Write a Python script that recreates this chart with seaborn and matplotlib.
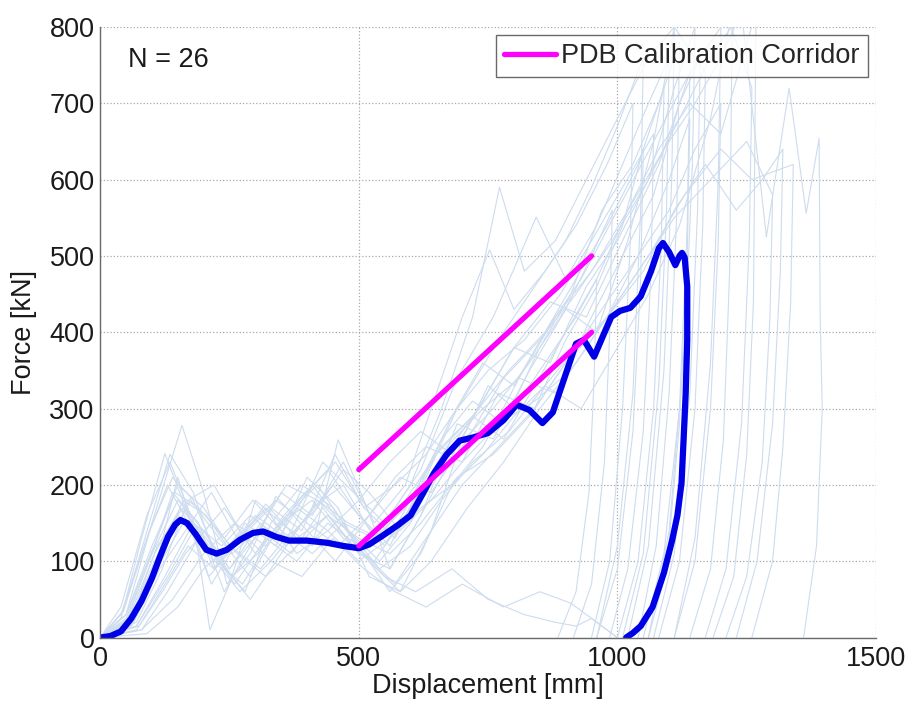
import numpy as np
import pandas as pd
import matplotlib
matplotlib.use("Agg")
import matplotlib.pyplot as plt
import seaborn as sns

# ---- individual tests (faint curves): displacement [mm] / force [kN]
t01_disp = [0, 40, 80, 125, 165, 210, 260, 320, 380, 440, 500, 560, 620, 690, 760, 830, 900, 950, 990, 985, 975, 950, 915]
t01_force = [0, 25, 130, 241, 170, 80, 120, 175, 130, 160, 110, 90, 160, 250, 300, 360, 430, 500, 560, 400, 230, 70, 0]
t02_disp = [0, 50, 100, 158, 200, 245, 290, 340, 400, 455, 510, 570, 630, 700, 770, 840, 900, 960, 1010, 1050, 1045, 1030, 1000, 960]
t02_force = [0, 30, 150, 278, 190, 70, 110, 185, 140, 100, 150, 210, 250, 230, 320, 300, 390, 460, 540, 640, 470, 270, 90, 0]
t03_disp = [0, 60, 110, 150, 185, 212, 250, 300, 350, 410, 460, 510, 560, 620, 690, 760, 830, 900, 960, 1020, 1070, 1110, 1105, 1090, 1060, 1020]
t03_force = [0, 15, 100, 210, 130, 10, 70, 180, 150, 120, 259, 180, 90, 160, 280, 260, 350, 430, 400, 520, 650, 800, 600, 350, 120, 0]
t04_disp = [0, 70, 120, 170, 220, 270, 330, 390, 450, 500, 550, 600, 660, 720, 780, 850, 910, 970, 1030, 1080, 1120, 1115, 1100, 1075, 1040]
t04_force = [0, 20, 90, 180, 200, 140, 100, 150, 200, 160, 120, 180, 260, 310, 280, 380, 450, 560, 620, 700, 780, 560, 320, 120, 0]
t05_disp = [0, 40, 90, 135, 175, 220, 280, 340, 400, 460, 520, 580, 640, 700, 750, 800, 860, 920, 960, 955, 945, 920, 885]
t05_force = [0, 40, 160, 230, 160, 90, 150, 120, 210, 170, 80, 60, 140, 260, 330, 300, 360, 420, 470, 340, 190, 60, 0]
t06_disp = [0, 80, 130, 190, 240, 300, 360, 420, 480, 540, 600, 660, 730, 800, 870, 940, 1000, 1060, 1110, 1150, 1145, 1130, 1100, 1060]
t06_force = [0, 10, 60, 130, 170, 110, 160, 200, 140, 100, 150, 230, 300, 380, 360, 460, 520, 600, 720, 800, 620, 380, 140, 0]
t07_disp = [0, 50, 100, 140, 190, 240, 290, 350, 410, 470, 530, 590, 650, 700, 753, 800, 860, 920, 980, 1030, 1025, 1010, 985, 950]
t07_force = [0, 20, 110, 190, 150, 60, 120, 190, 160, 230, 150, 200, 320, 420, 508, 430, 480, 540, 620, 700, 520, 300, 100, 0]
t08_disp = [0, 60, 110, 160, 210, 260, 320, 380, 440, 500, 560, 620, 680, 740, 810, 880, 950, 1010, 1070, 1120, 1160, 1155, 1140, 1110, 1070]
t08_force = [0, 25, 120, 170, 120, 70, 130, 100, 150, 120, 60, 110, 200, 250, 340, 320, 420, 500, 580, 700, 760, 560, 320, 110, 0]
t09_disp = [0, 70, 130, 180, 230, 290, 350, 410, 470, 530, 600, 660, 720, 772, 820, 880, 940, 1000, 1060, 1110, 1170, 1165, 1150, 1120, 1080]
t09_force = [0, 15, 80, 140, 100, 50, 110, 170, 200, 130, 200, 300, 420, 590, 480, 520, 600, 680, 760, 800, 740, 540, 300, 100, 0]
t10_disp = [0, 50, 110, 150, 200, 250, 310, 370, 430, 490, 550, 620, 690, 760, 843, 900, 960, 1010, 1060, 1100, 1095, 1080, 1050, 1010]
t10_force = [0, 30, 130, 200, 170, 120, 90, 140, 230, 190, 150, 220, 340, 420, 551, 470, 540, 620, 700, 760, 560, 330, 110, 0]
t11_disp = [0, 60, 110, 160, 210, 270, 330, 390, 450, 510, 570, 630, 700, 780, 850, 910, 960, 1000]
t11_force = [0, 15, 90, 150, 110, 60, 100, 80, 130, 90, 60, 40, 70, 40, 60, 45, 20, 0]
t12_disp = [0, 80, 140, 200, 260, 320, 380, 440, 500, 560, 620, 680, 740, 800, 860, 920, 980, 1040, 1100, 1150, 1200, 1195, 1180, 1150, 1110]
t12_force = [0, 10, 50, 110, 150, 120, 170, 140, 100, 130, 170, 200, 240, 290, 330, 380, 440, 500, 560, 640, 700, 520, 300, 100, 0]
t13_disp = [0, 45, 95, 140, 180, 230, 280, 330, 390, 450, 510, 570, 630, 700, 770, 840, 910, 980, 1040, 1100, 1140, 1135, 1120, 1095, 1060]
t13_force = [0, 35, 140, 210, 180, 100, 60, 150, 200, 170, 110, 70, 130, 200, 250, 300, 370, 420, 500, 600, 680, 500, 280, 90, 0]
t14_disp = [0, 55, 105, 150, 200, 250, 310, 360, 420, 480, 540, 600, 660, 720, 790, 860, 930, 1000, 1060, 1120, 1180, 1222, 1217, 1205, 1180, 1140]
t14_force = [0, 20, 100, 160, 140, 90, 150, 120, 180, 140, 90, 120, 180, 230, 270, 330, 300, 380, 450, 540, 680, 820, 480, 260, 90, 0]
t15_disp = [0, 65, 120, 175, 230, 290, 350, 410, 470, 530, 600, 670, 740, 810, 880, 950, 1020, 1090, 1150, 1200, 1240, 1288, 1332, 1365, 1390, 1392, 1396, 1385, 1360]
t15_force = [0, 20, 110, 180, 130, 80, 150, 180, 130, 100, 170, 250, 300, 340, 420, 480, 560, 640, 700, 760, 820, 525, 720, 556, 654, 420, 300, 120, 0]
t16_disp = [0, 75, 125, 170, 220, 280, 340, 400, 460, 520, 580, 640, 710, 780, 850, 920, 990, 1060, 1120, 1180, 1220, 1260, 1255, 1240, 1210, 1170]
t16_force = [0, 15, 70, 120, 90, 140, 180, 150, 120, 160, 210, 190, 260, 340, 390, 450, 520, 600, 680, 760, 800, 720, 520, 280, 90, 0]
t17_disp = [0, 40, 85, 130, 170, 215, 270, 330, 390, 454, 510, 570, 630, 690, 750, 820, 890, 950, 1010, 1070, 1065, 1050, 1020, 985]
t17_force = [0, 30, 120, 200, 150, 70, 130, 170, 140, 240, 170, 130, 210, 300, 350, 390, 450, 520, 590, 660, 480, 270, 90, 0]
t18_disp = [0, 70, 120, 165, 215, 265, 320, 380, 440, 500, 560, 620, 690, 760, 830, 900, 970, 1040, 1110, 1180, 1250, 1300, 1295, 1280, 1250, 1210]
t18_force = [0, 10, 60, 110, 150, 110, 80, 120, 160, 130, 110, 150, 210, 240, 290, 360, 410, 480, 550, 600, 650, 580, 420, 230, 80, 0]
t19_disp = [0, 50, 100, 150, 200, 250, 310, 370, 430, 490, 550, 610, 680, 750, 820, 880, 920, 950, 980, 1000]
t19_force = [0, 25, 110, 180, 140, 90, 140, 110, 170, 120, 80, 60, 90, 50, 30, 20, 15, 25, 10, 0]
t20_disp = [0, 60, 115, 160, 205, 255, 305, 360, 420, 480, 540, 600, 660, 720, 780, 840, 900, 960, 1020, 1080, 1140, 1200, 1268, 1263, 1250, 1225, 1185]
t20_force = [0, 20, 100, 180, 160, 110, 140, 200, 180, 150, 130, 190, 250, 290, 260, 330, 400, 470, 560, 640, 700, 660, 820, 440, 240, 80, 0]
t21_disp = [0, 90, 150, 200, 250, 300, 360, 420, 470, 520, 580, 640, 700, 770, 840, 910, 980, 1050, 1110, 1170, 1230, 1280, 1320, 1315, 1300, 1270, 1230]
t21_force = [0, 5, 40, 90, 120, 160, 130, 170, 220, 190, 140, 180, 230, 280, 310, 350, 420, 480, 560, 620, 560, 600, 640, 480, 280, 100, 0]
t22_disp = [0, 45, 95, 135, 180, 225, 275, 330, 385, 440, 500, 560, 620, 680, 740, 800, 860, 920, 980, 1040, 1090, 1085, 1070, 1040, 1000]
t22_force = [0, 35, 150, 240, 190, 100, 70, 130, 180, 220, 160, 120, 200, 290, 360, 330, 400, 470, 540, 620, 720, 520, 300, 100, 0]
t23_disp = [0, 65, 115, 165, 215, 265, 320, 380, 440, 500, 560, 620, 680, 740, 800, 870, 940, 1010, 1080, 1140, 1135, 1120, 1090, 1050]
t23_force = [0, 20, 90, 140, 190, 130, 170, 110, 140, 180, 230, 270, 240, 310, 380, 440, 420, 520, 620, 740, 540, 300, 110, 0]
t24_disp = [0, 55, 105, 155, 205, 255, 305, 355, 410, 465, 520, 580, 640, 710, 780, 850, 920, 990, 1060, 1130, 1200, 1260, 1340, 1335, 1320, 1300, 1260]
t24_force = [0, 25, 110, 170, 130, 80, 110, 160, 200, 150, 100, 60, 100, 170, 230, 300, 360, 430, 500, 580, 640, 600, 620, 440, 250, 100, 0]
t25_disp = [0, 70, 125, 180, 235, 290, 345, 400, 455, 510, 570, 630, 700, 770, 840, 900, 950, 1000, 1050, 1045, 1030, 1000, 960]
t25_force = [0, 15, 80, 150, 120, 160, 130, 190, 230, 170, 200, 240, 310, 390, 460, 520, 590, 670, 760, 560, 320, 120, 0]
t26_disp = [0, 50, 100, 145, 190, 240, 295, 350, 410, 470, 530, 590, 650, 720, 790, 860, 930, 1000, 1070, 1140, 1200, 1195, 1180, 1150, 1110]
t26_force = [0, 30, 120, 190, 170, 130, 180, 140, 110, 150, 130, 170, 240, 290, 350, 400, 470, 560, 650, 740, 800, 600, 360, 130, 0]

# ---- highlighted response (thick blue)
mean_disp = [0, 20, 40, 60, 80, 100, 115, 131, 145, 155, 168, 185, 205, 225, 245, 270, 295, 315, 340, 365,
             400, 440, 470, 500, 520, 545, 575, 600, 625, 645, 670, 695, 720, 750, 780, 805, 830, 855, 875, 900,
             920, 935, 955, 972, 988, 1005, 1025, 1045, 1065, 1080, 1088, 1100, 1112, 1120, 1125, 1130, 1135, 1135,
             1132, 1128, 1124, 1116, 1106, 1090, 1068, 1045, 1030, 1017]
mean_force = [0, 2, 8, 25, 48, 78, 105, 132, 148, 154, 150, 135, 115, 110, 115, 128, 137, 139, 132, 127,
              127, 124, 120, 117, 122, 133, 147, 160, 190, 215, 240, 258, 262, 268, 285, 305, 298, 281, 295, 345,
              385, 390, 368, 395, 420, 428, 432, 447, 480, 510, 517, 505, 488, 500, 504, 498, 460, 390,
              320, 260, 203, 160, 128, 85, 40, 15, 6, 0]

# ---- PDB calibration corridor
corridor_disp = [500, 950]
corridor_upper = [220, 500]
corridor_lower = [120, 400]

tests = {
    "t01": (t01_disp, t01_force), "t02": (t02_disp, t02_force), "t03": (t03_disp, t03_force),
    "t04": (t04_disp, t04_force), "t05": (t05_disp, t05_force), "t06": (t06_disp, t06_force),
    "t07": (t07_disp, t07_force), "t08": (t08_disp, t08_force), "t09": (t09_disp, t09_force),
    "t10": (t10_disp, t10_force), "t11": (t11_disp, t11_force), "t12": (t12_disp, t12_force),
    "t13": (t13_disp, t13_force), "t14": (t14_disp, t14_force), "t15": (t15_disp, t15_force),
    "t16": (t16_disp, t16_force), "t17": (t17_disp, t17_force), "t18": (t18_disp, t18_force),
    "t19": (t19_disp, t19_force), "t20": (t20_disp, t20_force), "t21": (t21_disp, t21_force),
    "t22": (t22_disp, t22_force), "t23": (t23_disp, t23_force), "t24": (t24_disp, t24_force),
    "t25": (t25_disp, t25_force), "t26": (t26_disp, t26_force),
}
df = pd.concat([pd.DataFrame({"test": k, "disp": d, "force": f}) for k, (d, f) in tests.items()],
               ignore_index=True)

sns.set_style("white")
plt.rcParams["font.family"] = ["Liberation Sans", "DejaVu Sans"]
FS = 19.5

fig = plt.figure(figsize=(9.11, 7.05), dpi=100)
ax = fig.add_axes([0.110, 0.0957, 0.8516, 0.866])

# estimator=None everywhere: curves double back in x, so nothing may be aggregated
sns.lineplot(data=df, x="disp", y="force", units="test", estimator=None, sort=False,
             color="#cddcee", linewidth=0.8, legend=False, ax=ax)
sns.lineplot(x=mean_disp, y=mean_force, estimator=None, sort=False, color="#0000e6",
             linewidth=4.5, ax=ax)
sns.lineplot(x=corridor_disp, y=corridor_upper, estimator=None, sort=False, color="#ff00ff",
             linewidth=3.8, label="PDB Calibration Corridor", ax=ax)
sns.lineplot(x=corridor_disp, y=corridor_lower, estimator=None, sort=False, color="#ff00ff",
             linewidth=3.8, ax=ax)

ax.set_xlim(0, 1500)
ax.set_ylim(0, 800)
ax.set_xticks([0, 500, 1000, 1500])
ax.set_yticks(range(0, 801, 100))
ax.grid(True, linestyle=":", color="#a8a8a8", linewidth=0.9)
ax.set_axisbelow(True)
for s in ["top", "right"]:
    ax.spines[s].set_visible(False)
for s in ["left", "bottom"]:
    ax.spines[s].set_color("#6a6a6a")
    ax.spines[s].set_linewidth(1.0)
ax.tick_params(direction="in", length=5, width=0.8, color="#6a6a6a", labelsize=FS,
               labelcolor="#1a1a1a")
ax.tick_params(axis="x", pad=6)
ax.tick_params(axis="y", pad=4)
ax.set_xlabel("Displacement [mm]", fontsize=FS, color="#1a1a1a", labelpad=1)
ax.set_ylabel("Force [kN]", fontsize=FS, color="#1a1a1a", labelpad=9)

ax.text(0.036, 0.946, "N = 26", transform=ax.transAxes, fontsize=FS, va="center", ha="left",
        color="#1a1a1a")
leg = ax.legend(loc="upper right", fontsize=FS, frameon=True, fancybox=False, handlelength=1.9,
                handletextpad=0.2, borderpad=0.3, borderaxespad=0.3)
leg.get_frame().set_edgecolor("#444444")
leg.get_frame().set_linewidth(1.0)

fig.savefig("out.png", dpi=100)
